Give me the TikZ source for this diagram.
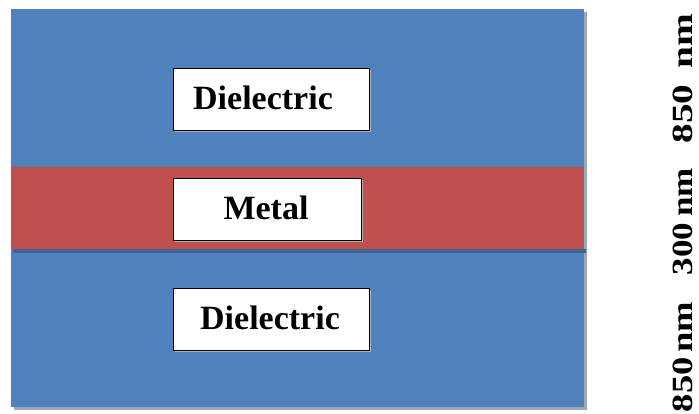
\documentclass[tikz,border=0pt]{standalone}
\usepackage{fontspec}
\setmainfont{Liberation Serif}
\usepackage{graphicx}
\definecolor{dielblue}{HTML}{4F81BD}
\definecolor{metalred}{HTML}{C0504D}
\definecolor{shadowgray}{HTML}{9AA8B8}
\tikzset{
  layerbox/.style={draw=black, line width=1.3pt, fill=white, inner sep=0pt},
  layertext/.style={font=\fontsize{34}{40}\selectfont\bfseries, inner sep=0pt},
  dimtext/.style={rotate=90, inner sep=0pt}
}
\newcommand{\dimlabel}[3]{\resizebox{#1}{19.5pt}{\fontsize{29}{30}\selectfont\bfseries #2\hspace{#3}nm}}
\begin{document}
\begin{tikzpicture}[x=1pt,y=-1pt]
\useasboundingbox (0,0) rectangle (699,413);
% shadow of the slab
\fill[shadowgray] (14,12) rectangle (587,410);
% dielectric slab
\fill[dielblue] (11,9) rectangle (584,407);
% shadow under metal band
\fill[black!22!dielblue] (13,249) rectangle (586,252.5);
% metal band
\fill[metalred] (11,167) rectangle (584,249);
% boxes
\fill[black!30] (174.5,69.5) rectangle (370.5,131.5);
\node[layerbox, minimum width=196pt, minimum height=62pt, anchor=north west] (d1) at (172.5,67.5) {};
\fill[black!30] (174.5,179.5) rectangle (362.5,241.5);
\node[layerbox, minimum width=188pt, minimum height=62pt, anchor=north west] (m) at (172.5,177.5) {};
\fill[black!30] (174.5,289.5) rectangle (370.5,351.5);
\node[layerbox, minimum width=196pt, minimum height=62pt, anchor=north west] (d2) at (172.5,287.5) {};
\node[layertext] (t1) at (263,98) {Dielectric};
\node[layertext] (t2) at (266,208) {Metal};
\node[layertext] (t3) at (270,318) {Dielectric};
% thickness labels
\node[dimtext] (l1) at (682.5,78.5) {\dimlabel{130pt}{850}{0.42em}};
\node[dimtext] (l2) at (682.5,221.5) {\dimlabel{107pt}{300}{0.17em}};
\node[dimtext] (l3) at (682.5,357) {\dimlabel{110pt}{850}{0.12em}};
\end{tikzpicture}
\end{document}
